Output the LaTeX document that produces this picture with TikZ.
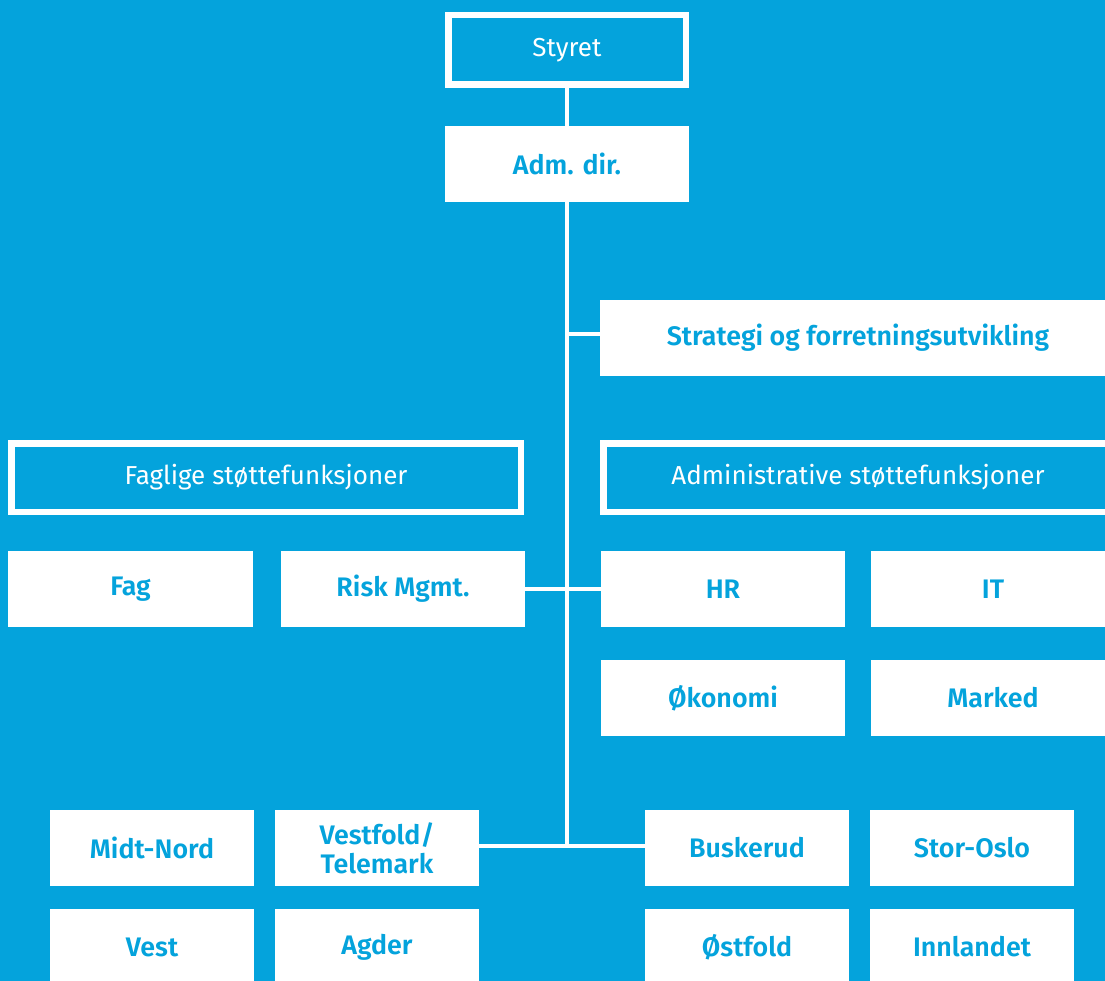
\documentclass[tikz,border=0pt]{standalone}
\usepackage{fontspec}
\setmainfont{Fira Sans}[BoldFont={Fira Sans SemiBold}]
\definecolor{bg}{RGB}{4,163,220}
\begin{document}
\begin{tikzpicture}[x=1pt,y=-1pt,
  filled/.style={fill=white,draw=none,inner sep=0pt,outer sep=0pt,
    font=\fontsize{26.8}{29}\selectfont\bfseries,text=bg,align=center},
  outlined/.style={draw=white,line width=6.5pt,fill=bg,inner sep=0pt,outer sep=0pt,
    font=\fontsize{26}{29}\selectfont,text=white,align=center},
  wide/.style={minimum width=244pt,minimum height=76pt},
  narrow/.style={minimum width=204pt,minimum height=76pt},
  conn/.style={draw=white,line width=4.5pt}]
\clip (0,0) rectangle (1105,981);
\fill[bg] (0,0) rectangle (1105,981);
\node[outlined,minimum width=237.5pt,minimum height=69.5pt] (styret) at (567,50) {Styret};
\node[filled,wide] (adm) at (567,164) {Adm. dir.};
\node[filled,minimum width=516pt,minimum height=76pt] (strat) at (858,338) {Strategi og forretningsutvikling};
\node[outlined,minimum width=509.5pt,minimum height=68.5pt] (fagl) at (266,477.5) {Faglige støttefunksjoner};
\node[outlined,minimum width=509.5pt,minimum height=68.5pt] (admin) at (858,477.5) {Administrative støttefunksjoner};
\node[filled,minimum width=245pt,minimum height=76pt] (fag) at (130.5,589) {Fag};
\node[filled,wide] (risk) at (403,589) {Risk Mgmt.};
\node[filled,wide] (hr) at (723,589) {HR};
\node[filled,wide] (it) at (993,589) {IT};
\node[filled,wide] (okon) at (723,698) {Økonomi};
\node[filled,wide] (marked) at (993,698) {Marked};
\node[filled,narrow] (midt) at (152,848) {Midt-Nord};
\node[filled,narrow] (vestf) at (377,848) {Vestfold/\\Telemark};
\node[filled,narrow] (busk) at (747,848) {Buskerud};
\node[filled,narrow] (stor) at (972,848) {Stor-Oslo};
\node[filled,narrow] (vest) at (152,947) {Vest};
\node[filled,narrow] (agder) at (377,947) {Agder};
\node[filled,narrow] (ostf) at (747,947) {Østfold};
\node[filled,narrow] (innl) at (972,947) {Innlandet};
\coordinate (bus) at (567,846);
\coordinate (sj) at ([yshift=4pt]strat.west);
\draw[conn] (styret.south) -- (adm.north);
\draw[conn] (adm.south) -- (bus);
\draw[conn] (adm.south |- sj) -- (sj);
\draw[conn] (risk.east) -- (hr.west);
\draw[conn] (vestf.east |- bus) -- (busk.west |- bus);
\end{tikzpicture}
\end{document}
